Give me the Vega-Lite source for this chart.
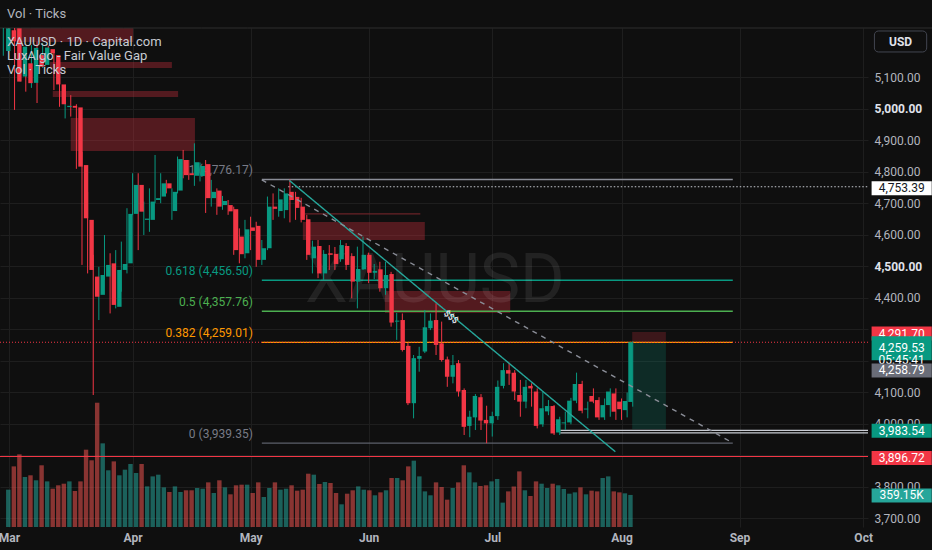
{
  "$schema": "https://vega.github.io/schema/vega-lite/v6.json",
  "width": 868,
  "height": 499,
  "autosize": {"type": "none"},
  "padding": {"left": 0, "top": 28, "right": 64, "bottom": 23},
  "background": "#0f0f0f",
  "title": {
    "text": "Vol · Ticks",
    "subtitle": ["XAUUSD · 1D · Capital.com", "LuxAlgo - Fair Value Gap", "Vol · Ticks"],
    "anchor": "start",
    "frame": "group",
    "dx": 7,
    "offset": -49,
    "fontSize": 13,
    "fontWeight": "normal",
    "color": "#b2b5be",
    "subtitleFontSize": 13,
    "subtitleColor": "#c8cbd2",
    "subtitleLineHeight": 14,
    "subtitlePadding": 15
  },
  "config": {
    "view": {"stroke": null},
    "font": "Roboto",
    "text": {"font": "Roboto"},
    "axis": {"labelFont": "Roboto"},
    "title": {"font": "Roboto", "subtitleFont": "Roboto"}
  },
  "datasets": {
    "bars": [
      {"i":0,"o":5184,"h":5262,"l":5169,"c":5256,"v":418},
      {"i":1,"o":5250,"h":5262,"l":5195,"c":5215,"v":679},
      {"i":2,"o":5256,"h":5262,"l":4997,"c":5087,"v":814},
      {"i":3,"o":5103,"h":5210,"l":5087,"c":5198,"v":560},
      {"i":4,"o":5145,"h":5162,"l":5055,"c":5082,"v":579},
      {"i":5,"o":5083,"h":5203,"l":5067,"c":5194,"v":523},
      {"i":6,"o":5171,"h":5214,"l":5019,"c":5134,"v":691},
      {"i":7,"o":5140,"h":5210,"l":5130,"c":5195,"v":511},
      {"i":8,"o":5190,"h":5201,"l":5166,"c":5177,"v":429},
      {"i":9,"o":5171,"h":5187,"l":5060,"c":5078,"v":467},
      {"i":10,"o":5078,"h":5129,"l":5007,"c":5015,"v":485},
      {"i":11,"o":5006,"h":5023,"l":4970,"c":5010,"v":511},
      {"i":12,"o":5010,"h":5044,"l":4976,"c":5004,"v":403},
      {"i":13,"o":5005,"h":5015,"l":4810,"c":4817,"v":511},
      {"i":14,"o":4822,"h":4864,"l":4505,"c":4653,"v":866},
      {"i":15,"o":4648,"h":4737,"l":4478,"c":4489,"v":747},
      {"i":16,"o":4468,"h":4537,"l":4092,"c":4404,"v":1392},
      {"i":17,"o":4410,"h":4499,"l":4330,"c":4473,"v":937},
      {"i":18,"o":4468,"h":4600,"l":4457,"c":4505,"v":635},
      {"i":19,"o":4510,"h":4542,"l":4351,"c":4378,"v":735},
      {"i":20,"o":4372,"h":4552,"l":4367,"c":4489,"v":579},
      {"i":21,"o":4489,"h":4579,"l":4420,"c":4508,"v":642},
      {"i":22,"o":4510,"h":4685,"l":4478,"c":4667,"v":706},
      {"i":23,"o":4667,"h":4796,"l":4663,"c":4759,"v":605},
      {"i":24,"o":4759,"h":4796,"l":4552,"c":4674,"v":706},
      {"i":25,"o":4648,"h":4706,"l":4600,"c":4652,"v":455},
      {"i":26,"o":4648,"h":4748,"l":4610,"c":4706,"v":567},
      {"i":27,"o":4711,"h":4854,"l":4701,"c":4717,"v":586},
      {"i":28,"o":4722,"h":4796,"l":4701,"c":4764,"v":444},
      {"i":29,"o":4764,"h":4775,"l":4732,"c":4748,"v":392},
      {"i":30,"o":4676,"h":4748,"l":4648,"c":4737,"v":455},
      {"i":31,"o":4741,"h":4849,"l":4732,"c":4841,"v":392},
      {"i":32,"o":4838,"h":4870,"l":4780,"c":4790,"v":411},
      {"i":33,"o":4796,"h":4838,"l":4775,"c":4790,"v":411},
      {"i":34,"o":4788,"h":4891,"l":4756,"c":4831,"v":437},
      {"i":35,"o":4787,"h":4830,"l":4770,"c":4819,"v":429},
      {"i":36,"o":4825,"h":4838,"l":4670,"c":4717,"v":500},
      {"i":37,"o":4717,"h":4775,"l":4690,"c":4737,"v":381},
      {"i":38,"o":4741,"h":4748,"l":4664,"c":4690,"v":523},
      {"i":39,"o":4695,"h":4724,"l":4680,"c":4708,"v":444},
      {"i":40,"o":4695,"h":4711,"l":4664,"c":4675,"v":366},
      {"i":41,"o":4682,"h":4690,"l":4537,"c":4552,"v":467},
      {"i":42,"o":4595,"h":4621,"l":4510,"c":4539,"v":474},
      {"i":43,"o":4542,"h":4648,"l":4526,"c":4618,"v":474},
      {"i":44,"o":4624,"h":4658,"l":4552,"c":4613,"v":381},
      {"i":45,"o":4629,"h":4642,"l":4499,"c":4521,"v":500},
      {"i":46,"o":4521,"h":4584,"l":4505,"c":4558,"v":336},
      {"i":47,"o":4558,"h":4722,"l":4552,"c":4690,"v":437},
      {"i":48,"o":4690,"h":4732,"l":4648,"c":4683,"v":500},
      {"i":49,"o":4676,"h":4748,"l":4658,"c":4713,"v":418},
      {"i":50,"o":4679,"h":4748,"l":4653,"c":4732,"v":429},
      {"i":51,"o":4737,"h":4776,"l":4640,"c":4711,"v":467},
      {"i":52,"o":4721,"h":4737,"l":4648,"c":4686,"v":407},
      {"i":53,"o":4690,"h":4718,"l":4640,"c":4648,"v":418},
      {"i":54,"o":4650,"h":4664,"l":4521,"c":4537,"v":597},
      {"i":55,"o":4526,"h":4582,"l":4478,"c":4563,"v":586},
      {"i":56,"o":4565,"h":4584,"l":4463,"c":4478,"v":482},
      {"i":57,"o":4478,"h":4552,"l":4457,"c":4540,"v":504},
      {"i":58,"o":4542,"h":4568,"l":4489,"c":4537,"v":493},
      {"i":59,"o":4540,"h":4562,"l":4489,"c":4508,"v":381},
      {"i":60,"o":4523,"h":4584,"l":4515,"c":4568,"v":254},
      {"i":61,"o":4565,"h":4574,"l":4489,"c":4505,"v":373},
      {"i":62,"o":4533,"h":4542,"l":4399,"c":4452,"v":411},
      {"i":63,"o":4452,"h":4563,"l":4367,"c":4492,"v":455},
      {"i":64,"o":4491,"h":4595,"l":4489,"c":4537,"v":418},
      {"i":65,"o":4537,"h":4544,"l":4447,"c":4480,"v":411},
      {"i":66,"o":4480,"h":4508,"l":4460,"c":4486,"v":355},
      {"i":67,"o":4491,"h":4515,"l":4420,"c":4431,"v":388},
      {"i":68,"o":4431,"h":4515,"l":4410,"c":4473,"v":411},
      {"i":69,"o":4476,"h":4483,"l":4309,"c":4322,"v":549},
      {"i":70,"o":4325,"h":4353,"l":4267,"c":4328,"v":549},
      {"i":71,"o":4330,"h":4351,"l":4230,"c":4235,"v":523},
      {"i":72,"o":4248,"h":4257,"l":4060,"c":4066,"v":679},
      {"i":73,"o":4066,"h":4219,"l":4018,"c":4209,"v":743},
      {"i":74,"o":4207,"h":4245,"l":4166,"c":4216,"v":567},
      {"i":75,"o":4230,"h":4362,"l":4225,"c":4307,"v":399},
      {"i":76,"o":4304,"h":4351,"l":4298,"c":4328,"v":355},
      {"i":77,"o":4330,"h":4383,"l":4219,"c":4251,"v":500},
      {"i":78,"o":4256,"h":4325,"l":4198,"c":4203,"v":448},
      {"i":79,"o":4205,"h":4214,"l":4118,"c":4150,"v":306},
      {"i":80,"o":4150,"h":4219,"l":4129,"c":4187,"v":437},
      {"i":81,"o":4193,"h":4203,"l":4087,"c":4103,"v":500},
      {"i":82,"o":4108,"h":4113,"l":3965,"c":3991,"v":691},
      {"i":83,"o":3994,"h":4042,"l":3958,"c":4023,"v":612},
      {"i":84,"o":4021,"h":4095,"l":3981,"c":4089,"v":500},
      {"i":85,"o":4085,"h":4095,"l":3981,"c":4011,"v":459},
      {"i":86,"o":4013,"h":4058,"l":3939,"c":4002,"v":467},
      {"i":87,"o":4002,"h":4039,"l":3960,"c":4025,"v":511},
      {"i":88,"o":4025,"h":4138,"l":4013,"c":4118,"v":538},
      {"i":89,"o":4121,"h":4193,"l":4113,"c":4171,"v":273},
      {"i":90,"o":4171,"h":4195,"l":4124,"c":4160,"v":399},
      {"i":91,"o":4163,"h":4171,"l":4076,"c":4103,"v":455},
      {"i":92,"o":4092,"h":4140,"l":4023,"c":4071,"v":623},
      {"i":93,"o":4071,"h":4140,"l":4050,"c":4118,"v":411},
      {"i":94,"o":4121,"h":4129,"l":4055,"c":4113,"v":347},
      {"i":95,"o":4103,"h":4113,"l":3986,"c":3994,"v":511},
      {"i":96,"o":3999,"h":4103,"l":3991,"c":4050,"v":485},
      {"i":97,"o":4040,"h":4076,"l":4028,"c":4057,"v":437},
      {"i":98,"o":4057,"h":4060,"l":3965,"c":3970,"v":485},
      {"i":99,"o":3973,"h":4023,"l":3965,"c":4015,"v":467},
      {"i":100,"o":4002,"h":4039,"l":3981,"c":4005,"v":426},
      {"i":101,"o":4005,"h":4083,"l":3999,"c":4074,"v":373},
      {"i":102,"o":4074,"h":4163,"l":4066,"c":4127,"v":388},
      {"i":103,"o":4127,"h":4137,"l":4034,"c":4042,"v":444},
      {"i":104,"o":4046,"h":4071,"l":4018,"c":4049,"v":366},
      {"i":105,"o":4089,"h":4113,"l":4066,"c":4071,"v":407},
      {"i":106,"o":4076,"h":4085,"l":4013,"c":4021,"v":399},
      {"i":107,"o":4021,"h":4081,"l":4013,"c":4060,"v":549},
      {"i":108,"o":4060,"h":4113,"l":4023,"c":4103,"v":567},
      {"i":109,"o":4097,"h":4113,"l":4013,"c":4039,"v":399},
      {"i":110,"o":4071,"h":4081,"l":4013,"c":4047,"v":388},
      {"i":111,"o":4044,"h":4100,"l":4021,"c":4073,"v":377},
      {"i":112,"o":4070,"h":4262,"l":4055,"c":4259.53,"v":359.15}
    ],
    "fvg": [
      {"i1":1.9,"i2":23.1,"top":5262,"bot":5213,"kind":"fvg"},
      {"i1":8.3,"i2":30.0,"top":5149,"bot":5130,"kind":"fvg"},
      {"i1":8.8,"i2":31.1,"top":5057,"bot":5038,"kind":"fvg"},
      {"i1":12.0,"i2":34.1,"top":4971,"bot":4867,"kind":"fvg"},
      {"i1":53.3,"i2":75.0,"top":4641,"bot":4584,"kind":"fvg"},
      {"i1":67.9,"i2":90.2,"top":4422,"bot":4352,"kind":"fvg"},
      {"i1":111.9,"i2":117.9,"top":4291.7,"bot":4259.53,"kind":"stop"},
      {"i1":111.9,"i2":117.9,"top":4259.53,"bot":3983.54,"kind":"target"}
    ],
    "fib": [
      {"level":"1","price":4776.17,"label":"1 (4,776.17)","i1":46.0,"i2":129.8},
      {"level":"0.618","price":4456.50,"label":"0.618 (4,456.50)","i1":46.0,"i2":129.8},
      {"level":"0.5","price":4357.76,"label":"0.5 (4,357.76)","i1":46.0,"i2":129.8},
      {"level":"0.382","price":4259.01,"label":"0.382 (4,259.01)","i1":46.0,"i2":129.8},
      {"level":"0","price":3939.35,"label":"0 (3,939.35)","i1":46.0,"i2":129.8}
    ],
    "hlines": [
      {"i1":-0.59,"i2":165.5,"price":5257.1,"kind":"sep"},
      {"i1":50.7,"i2":153.86,"price":4753.39,"kind":"white"},
      {"i1":-0.59,"i2":153.86,"price":4259.53,"kind":"price"},
      {"i1":-0.59,"i2":153.86,"price":3896.72,"kind":"red"},
      {"i1":99.1,"i2":153.86,"price":3980,"kind":"double"},
      {"i1":99.1,"i2":153.86,"price":3972,"kind":"double"},
      {"i1":53.7,"i2":74.2,"price":4667,"kind":"thin"}
    ],
    "trend": [
      {"name":"teal","i":50.9,"p":4773},
      {"name":"teal","i":108.9,"p":3912},
      {"name":"dash","i":46.0,"p":4775},
      {"name":"dash","i":129.8,"p":3940}
    ],
    "tags": [
      {"value":4753.39,"label":"4,753.39","kind":"white"},
      {"value":4291.70,"label":"4,291.70","kind":"red"},
      {"value":3983.54,"label":"3,983.54","kind":"green"},
      {"value":3896.72,"label":"3,896.72","kind":"red"},
      {"value":4259.53,"label":"4,259.53\n05:45:41","kind":"last"},
      {"value":4258.79,"label":"4,258.79","kind":"gray"}
    ],
    "voltag": [{"v":359.15,"label":"359.15K"}]
  },
  "resolve": {"scale": {"x": "independent", "y": "independent", "color": "independent", "strokeDash": "independent", "strokeWidth": "independent"}},
  "layer": [
    {
      "data": {"name": "bars"},
      "mark": {"type": "rule", "strokeWidth": 1, "clip": true, "opacity": 0},
      "encoding": {
        "x": {"field": "i", "type": "quantitative", "scale": {"domain": [-0.59, 153.86], "nice": false, "zero": false},
          "axis": {"orient": "bottom", "title": null, "values": [1, 23, 44, 65, 87, 110, 131, 153],
            "labelExpr": "['Mar','Apr','May','Jun','Jul','Aug','Sep','Oct'][indexof([1,23,44,65,87,110,131,153], datum.value)]",
            "domain": false, "ticks": false, "labelPadding": 5, "labelFontSize": 12, "labelFontWeight": "bold",
            "labelColor": "#b2b5be", "grid": true, "gridColor": "#1e1e1e", "labelFlush": false, "labelOverlap": false}},
        "y": {"field": "l", "type": "quantitative", "scale": {"domain": [3673, 5257.1], "nice": false, "zero": false},
          "axis": {"orient": "right", "title": null,
            "values": [3700, 3800, 3900, 4000, 4100, 4200, 4300, 4400, 4500, 4600, 4700, 4800, 4900, 5000, 5100],
            "labelExpr": "(datum.value == 4300 || datum.value == 4200 || datum.value == 3900) ? '' : format(datum.value, ',.2f')",
            "domain": false, "ticks": false, "labelPadding": 6, "labelFontSize": 12,
            "labelColor": {"condition": {"test": "datum.value == 5000 || datum.value == 4500", "value": "#e0e3eb"}, "value": "#b2b5be"},
            "labelFontWeight": {"condition": {"test": "datum.value == 5000 || datum.value == 4500", "value": "bold"}, "value": "normal"},
            "grid": true, "gridColor": "#1e1e1e", "labelFlush": false, "labelOverlap": false}},
        "y2": {"field": "h"}
      }
    },
    {
      "data": {"name": "bars"},
      "mark": {"type": "bar", "width": 4.4, "opacity": 0.55},
      "encoding": {
        "x": {"field": "i", "type": "quantitative", "scale": {"domain": [-0.59, 153.86], "nice": false, "zero": false}, "axis": null},
        "y": {"field": "v", "type": "quantitative", "scale": {"domain": [0, 5589], "nice": false}, "axis": null},
        "color": {"condition": {"test": "datum.c >= datum.o", "value": "#26a69a"}, "value": "#ef5350"}
      }
    },
    {
      "data": {"name": "voltag"},
      "mark": {"type": "rule", "strokeWidth": 14, "color": "#26a69a", "strokeCap": "butt", "yOffset": 0.5},
      "encoding": {
        "x": {"datum": 154.5, "type": "quantitative", "scale": {"domain": [-0.59, 153.86], "nice": false, "zero": false}, "axis": null},
        "x2": {"datum": 165.2},
        "y": {"field": "v", "type": "quantitative", "scale": {"domain": [0, 5589], "nice": false}, "axis": null}
      }
    },
    {
      "data": {"name": "voltag"},
      "mark": {"type": "text", "color": "#ffffff", "fontSize": 12, "align": "center", "baseline": "middle", "yOffset": 0.5},
      "encoding": {
        "x": {"datum": 159.85, "type": "quantitative", "scale": {"domain": [-0.59, 153.86], "nice": false, "zero": false}, "axis": null},
        "y": {"field": "v", "type": "quantitative", "scale": {"domain": [0, 5589], "nice": false}, "axis": null},
        "text": {"field": "label"}
      }
    },
    {
      "data": {"name": "fvg"},
      "mark": {"type": "rect", "clip": true},
      "encoding": {
        "x": {"field": "i1", "type": "quantitative", "scale": {"domain": [-0.59, 153.86], "nice": false, "zero": false}, "axis": null},
        "x2": {"field": "i2"},
        "y": {"field": "top", "type": "quantitative", "scale": {"domain": [3673, 5257.1], "nice": false, "zero": false}, "axis": null},
        "y2": {"field": "bot"},
        "color": {"field": "kind", "type": "nominal", "legend": null,
          "scale": {"domain": ["fvg", "stop", "target"], "range": ["rgba(242,54,69,0.3)", "rgba(242,54,69,0.2)", "rgba(8,153,129,0.2)"]}}
      }
    },
    {
      "data": {"name": "fib"},
      "mark": {"type": "rule", "strokeWidth": 1.4},
      "encoding": {
        "x": {"field": "i1", "type": "quantitative", "scale": {"domain": [-0.59, 153.86], "nice": false, "zero": false}, "axis": null},
        "x2": {"field": "i2"},
        "y": {"field": "price", "type": "quantitative", "scale": {"domain": [3673, 5257.1], "nice": false, "zero": false}, "axis": null},
        "color": {"field": "level", "type": "nominal", "legend": null,
          "scale": {"domain": ["1", "0.618", "0.5", "0.382", "0"], "range": ["#8a8d97", "#089981", "#4caf50", "#ff9800", "#5d606b"]}}
      }
    },
    {
      "data": {"name": "fib"},
      "mark": {"type": "text", "align": "right", "baseline": "bottom", "dx": -9, "dy": -2, "fontSize": 12},
      "encoding": {
        "x": {"field": "i1", "type": "quantitative", "scale": {"domain": [-0.59, 153.86], "nice": false, "zero": false}, "axis": null},
        "y": {"field": "price", "type": "quantitative", "scale": {"domain": [3673, 5257.1], "nice": false, "zero": false}, "axis": null},
        "text": {"field": "label"},
        "color": {"field": "level", "type": "nominal", "legend": null,
          "scale": {"domain": ["1", "0.618", "0.5", "0.382", "0"], "range": ["#787b86", "#089981", "#4caf50", "#ff9800", "#787b86"]}}
      }
    },
    {
      "data": {"name": "hlines"},
      "mark": {"type": "rule", "strokeCap": "butt"},
      "encoding": {
        "x": {"field": "i1", "type": "quantitative", "scale": {"domain": [-0.59, 153.86], "nice": false, "zero": false}, "axis": null},
        "x2": {"field": "i2"},
        "y": {"field": "price", "type": "quantitative", "scale": {"domain": [3673, 5257.1], "nice": false, "zero": false}, "axis": null},
        "color": {"field": "kind", "type": "nominal", "legend": null,
          "scale": {"domain": ["sep", "white", "price", "red", "double", "thin"], "range": ["#2e2e2e", "#c8cbd2", "#f23645", "#f23645", "#c8cbd2", "#6b2328"]}},
        "strokeDash": {"field": "kind", "type": "nominal", "legend": null,
          "scale": {"domain": ["sep", "white", "price", "red", "double", "thin"], "range": [[1, 0], [1.5, 2], [1, 2], [1, 0], [1, 0], [1, 0]]}},
        "strokeWidth": {"field": "kind", "type": "nominal", "legend": null,
          "scale": {"domain": ["sep", "white", "price", "red", "double", "thin"], "range": [1, 1.3, 1, 1.5, 1.4, 1]}}
      }
    },
    {
      "data": {"values": [{}]},
      "mark": {"type": "text", "text": "XAUUSD", "fontSize": 68, "color": "#ffffff", "opacity": 0.08, "align": "center", "baseline": "middle"},
      "encoding": {
        "x": {"datum": 76.8, "type": "quantitative", "scale": {"domain": [-0.59, 153.86], "nice": false, "zero": false}, "axis": null},
        "y": {"datum": 4451, "type": "quantitative", "scale": {"domain": [3673, 5257.1], "nice": false, "zero": false}, "axis": null}
      }
    },
    {
      "data": {"name": "bars"},
      "mark": {"type": "rule", "strokeWidth": 1, "clip": true},
      "encoding": {
        "x": {"field": "i", "type": "quantitative", "scale": {"domain": [-0.59, 153.86], "nice": false, "zero": false}, "axis": null},
        "y": {"field": "l", "type": "quantitative", "scale": {"domain": [3673, 5257.1], "nice": false, "zero": false}, "axis": null},
        "y2": {"field": "h"},
        "color": {"condition": {"test": "datum.c >= datum.o", "value": "#089981"}, "value": "#f23645"}
      }
    },
    {
      "data": {"name": "bars"},
      "mark": {"type": "bar", "width": 4.4, "clip": true},
      "encoding": {
        "x": {"field": "i", "type": "quantitative", "scale": {"domain": [-0.59, 153.86], "nice": false, "zero": false}, "axis": null},
        "y": {"field": "o", "type": "quantitative", "scale": {"domain": [3673, 5257.1], "nice": false, "zero": false}, "axis": null},
        "y2": {"field": "c"},
        "color": {"condition": {"test": "datum.c >= datum.o", "value": "#089981"}, "value": "#f23645"}
      }
    },
    {
      "data": {"name": "trend"},
      "mark": {"type": "line", "strokeWidth": 1.4},
      "encoding": {
        "x": {"field": "i", "type": "quantitative", "scale": {"domain": [-0.59, 153.86], "nice": false, "zero": false}, "axis": null},
        "y": {"field": "p", "type": "quantitative", "scale": {"domain": [3673, 5257.1], "nice": false, "zero": false}, "axis": null},
        "color": {"field": "name", "type": "nominal", "legend": null, "scale": {"domain": ["teal", "dash"], "range": ["#26a69a", "#8a8d97"]}},
        "strokeDash": {"field": "name", "type": "nominal", "legend": null, "scale": {"domain": ["teal", "dash"], "range": [[1, 0], [5, 5]]}}
      }
    },
    {
      "data": {"values": [{}]},
      "mark": {"type": "text", "text": "$$$", "fontSize": 9, "fontWeight": "bold", "color": "#e0e3eb", "angle": 40, "align": "center", "baseline": "middle"},
      "encoding": {
        "x": {"datum": 79.7, "type": "quantitative", "scale": {"domain": [-0.59, 153.86], "nice": false, "zero": false}, "axis": null},
        "y": {"datum": 4340, "type": "quantitative", "scale": {"domain": [3673, 5257.1], "nice": false, "zero": false}, "axis": null}
      }
    },
    {
      "data": {"values": [{}]},
      "mark": {"type": "rect", "filled": false, "stroke": "#434651", "strokeWidth": 1, "cornerRadius": 4},
      "encoding": {
        "x": {"datum": 155.0, "type": "quantitative", "scale": {"domain": [-0.59, 153.86], "nice": false, "zero": false}, "axis": null},
        "x2": {"datum": 164.3},
        "y": {"datum": 5247.6, "type": "quantitative", "scale": {"domain": [3673, 5257.1], "nice": false, "zero": false}, "axis": null},
        "y2": {"datum": 5181}
      }
    },
    {
      "data": {"values": [{}]},
      "mark": {"type": "text", "text": "USD", "fontSize": 12, "fontWeight": "bold", "color": "#e0e3eb", "align": "center", "baseline": "middle"},
      "encoding": {
        "x": {"datum": 159.65, "type": "quantitative", "scale": {"domain": [-0.59, 153.86], "nice": false, "zero": false}, "axis": null},
        "y": {"datum": 5214, "type": "quantitative", "scale": {"domain": [3673, 5257.1], "nice": false, "zero": false}, "axis": null}
      }
    },
    {
      "data": {"name": "tags"},
      "transform": [{"filter": "datum.kind == 'white' || datum.kind == 'red' || datum.kind == 'green'"}],
      "mark": {"type": "rule", "strokeWidth": 14, "strokeCap": "butt", "yOffset": 1.5},
      "encoding": {
        "x": {"datum": 154.5, "type": "quantitative", "scale": {"domain": [-0.59, 153.86], "nice": false, "zero": false}, "axis": null},
        "x2": {"datum": 165.2},
        "y": {"field": "value", "type": "quantitative", "scale": {"domain": [3673, 5257.1], "nice": false, "zero": false}, "axis": null},
        "color": {"field": "kind", "type": "nominal", "legend": null,
          "scale": {"domain": ["white", "red", "green"], "range": ["#ffffff", "#f23645", "#089981"]}}
      }
    },
    {
      "data": {"name": "tags"},
      "transform": [{"filter": "datum.kind == 'white' || datum.kind == 'red' || datum.kind == 'green'"}],
      "mark": {"type": "text", "fontSize": 12, "align": "center", "baseline": "middle", "yOffset": 1.5},
      "encoding": {
        "x": {"datum": 159.85, "type": "quantitative", "scale": {"domain": [-0.59, 153.86], "nice": false, "zero": false}, "axis": null},
        "y": {"field": "value", "type": "quantitative", "scale": {"domain": [3673, 5257.1], "nice": false, "zero": false}, "axis": null},
        "text": {"field": "label"},
        "color": {"field": "kind", "type": "nominal", "legend": null,
          "scale": {"domain": ["white", "red", "green"], "range": ["#131722", "#ffffff", "#ffffff"]}}
      }
    },
    {
      "data": {"name": "tags"},
      "transform": [{"filter": "datum.kind == 'last'"}],
      "mark": {"type": "rule", "strokeWidth": 24, "strokeCap": "butt", "yOffset": 6, "color": "#089981"},
      "encoding": {
        "x": {"datum": 154.5, "type": "quantitative", "scale": {"domain": [-0.59, 153.86], "nice": false, "zero": false}, "axis": null},
        "x2": {"datum": 165.2},
        "y": {"field": "value", "type": "quantitative", "scale": {"domain": [3673, 5257.1], "nice": false, "zero": false}, "axis": null}
      }
    },
    {
      "data": {"name": "tags"},
      "transform": [{"filter": "datum.kind == 'last'"}],
      "mark": {"type": "text", "fontSize": 12, "align": "center", "baseline": "middle", "yOffset": 6, "lineBreak": "\n", "lineHeight": 11.5, "color": "#ffffff"},
      "encoding": {
        "x": {"datum": 159.85, "type": "quantitative", "scale": {"domain": [-0.59, 153.86], "nice": false, "zero": false}, "axis": null},
        "y": {"field": "value", "type": "quantitative", "scale": {"domain": [3673, 5257.1], "nice": false, "zero": false}, "axis": null},
        "text": {"field": "label"}
      }
    },
    {
      "data": {"name": "tags"},
      "transform": [{"filter": "datum.kind == 'gray'"}],
      "mark": {"type": "rule", "strokeWidth": 14, "strokeCap": "butt", "yOffset": 28, "color": "#6a6d78"},
      "encoding": {
        "x": {"datum": 154.5, "type": "quantitative", "scale": {"domain": [-0.59, 153.86], "nice": false, "zero": false}, "axis": null},
        "x2": {"datum": 165.2},
        "y": {"field": "value", "type": "quantitative", "scale": {"domain": [3673, 5257.1], "nice": false, "zero": false}, "axis": null}
      }
    },
    {
      "data": {"name": "tags"},
      "transform": [{"filter": "datum.kind == 'gray'"}],
      "mark": {"type": "text", "fontSize": 12, "align": "center", "baseline": "middle", "yOffset": 28, "color": "#ffffff"},
      "encoding": {
        "x": {"datum": 159.85, "type": "quantitative", "scale": {"domain": [-0.59, 153.86], "nice": false, "zero": false}, "axis": null},
        "y": {"field": "value", "type": "quantitative", "scale": {"domain": [3673, 5257.1], "nice": false, "zero": false}, "axis": null},
        "text": {"field": "label"}
      }
    }
  ]
}
